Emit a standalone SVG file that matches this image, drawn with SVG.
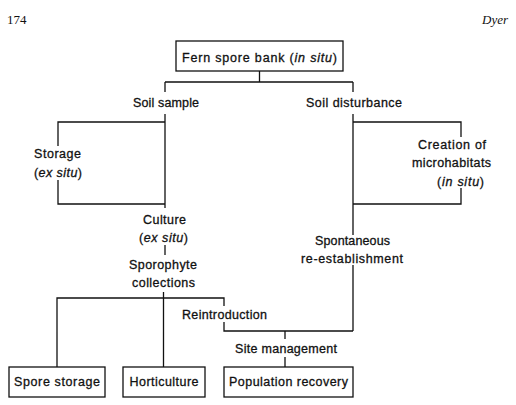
<svg xmlns="http://www.w3.org/2000/svg" width="516" height="405" viewBox="0 0 516 405">
<style>
.t{font-family:"Liberation Sans",Arial,sans-serif;font-size:12.5px;fill:#111;stroke:#111;stroke-width:0.3;text-anchor:middle;}
.i{font-style:italic;}
.b{fill:#fff;stroke:#111;stroke-width:1.3;}
.c{fill:none;stroke:#111;stroke-width:1.3;}
.h{font-family:"Liberation Serif","Times New Roman",serif;font-size:13px;fill:#111;}
</style>
<rect width="516" height="405" fill="#fff"/>
<text class="h" x="7" y="24">174</text>
<text class="h" x="508" y="24" font-style="italic" text-anchor="end">Dyer</text>
<g id="connectors">
<path class="c" d="M259.5 71V82M165 82H353M165 82V92M353 82V92"/>
<path class="c" d="M165 114V208M165 122H58V146M58 180V204H165"/>
<path class="c" d="M165 245V255"/>
<path class="c" d="M163.5 292V367M57 367V298H224V306M224 322V331H353M353 265V331"/>
<path class="c" d="M285 331V339M285 357V367"/>
<path class="c" d="M353 114V235M353 122H461V137M461 188V204H353"/>
</g>
<g id="fern-spore-bank">
<rect class="b" x="176" y="41" width="167" height="30"/>
<text class="t" x="259.5" y="62" textLength="155" lengthAdjust="spacing">Fern spore bank (<tspan class="i">in situ</tspan>)</text>
</g>
<g id="soil-sample"><text class="t" x="166" y="107" textLength="66" lengthAdjust="spacing">Soil sample</text></g>
<g id="soil-disturbance"><text class="t" x="354" y="107" textLength="96" lengthAdjust="spacing">Soil disturbance</text></g>
<g id="storage">
<text class="t" x="57.5" y="158" textLength="47" lengthAdjust="spacing">Storage</text>
<text class="t" x="58" y="176.5" textLength="48" lengthAdjust="spacing">(<tspan class="i">ex situ</tspan>)</text>
</g>
<g id="culture">
<text class="t" x="164.5" y="224" textLength="43" lengthAdjust="spacing">Culture</text>
<text class="t" x="163.5" y="241.5" textLength="49" lengthAdjust="spacing">(<tspan class="i">ex situ</tspan>)</text>
</g>
<g id="sporophyte-collections">
<text class="t" x="163" y="269" textLength="68" lengthAdjust="spacing">Sporophyte</text>
<text class="t" x="163.5" y="287" textLength="63" lengthAdjust="spacing">collections</text>
</g>
<g id="creation-of-microhabitats">
<text class="t" x="452" y="149" textLength="68" lengthAdjust="spacing">Creation of</text>
<text class="t" x="451.5" y="167" textLength="79" lengthAdjust="spacing">microhabitats</text>
<text class="t" x="460.5" y="185.5" textLength="47" lengthAdjust="spacing">(<tspan class="i">in situ</tspan>)</text>
</g>
<g id="spontaneous-re-establishment">
<text class="t" x="352.5" y="245" textLength="75" lengthAdjust="spacing">Spontaneous</text>
<text class="t" x="352" y="263" textLength="102" lengthAdjust="spacing">re-establishment</text>
</g>
<g id="reintroduction"><text class="t" x="224.5" y="319" textLength="85" lengthAdjust="spacing">Reintroduction</text></g>
<g id="site-management"><text class="t" x="286" y="353" textLength="102" lengthAdjust="spacing">Site management</text></g>
<g id="spore-storage">
<rect class="b" x="9" y="367" width="96" height="30"/>
<text class="t" x="57" y="386" textLength="86" lengthAdjust="spacing">Spore storage</text>
</g>
<g id="horticulture">
<rect class="b" x="123" y="367" width="82" height="30"/>
<text class="t" x="164" y="386" textLength="69" lengthAdjust="spacing">Horticulture</text>
</g>
<g id="population-recovery">
<rect class="b" x="224" y="367" width="129" height="30"/>
<text class="t" x="288.5" y="386" textLength="119" lengthAdjust="spacing">Population recovery</text>
</g>
</svg>
